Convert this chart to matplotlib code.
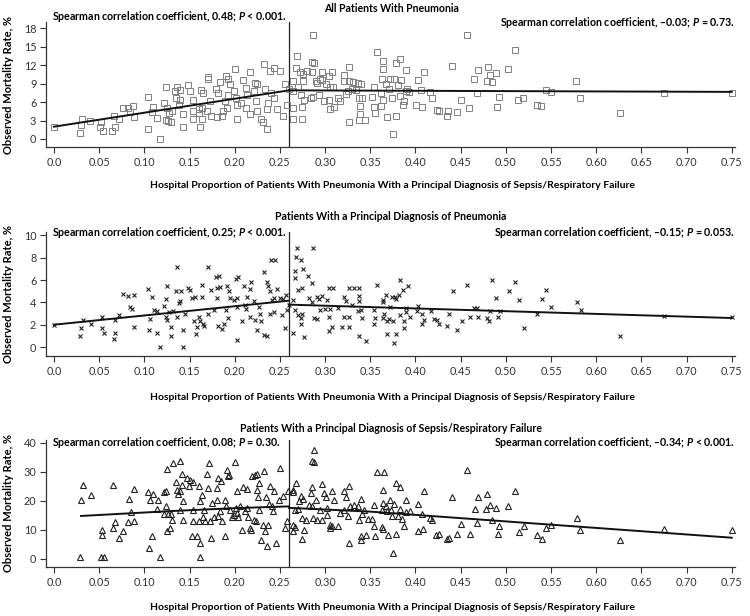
import numpy as np
import matplotlib
matplotlib.use('Agg')
import matplotlib.pyplot as plt

# ---------------- data ----------------
# panel 1: all patients with pneumonia
x_all = [0.000, 0.029, 0.030, 0.031, 0.040, 0.051, 0.052, 0.054, 0.064, 0.067, 0.066, 0.072,
         0.076, 0.082, 0.087, 0.084, 0.089, 0.104, 0.104, 0.108, 0.110, 0.114, 0.117,
         0.124, 0.122, 0.125, 0.124, 0.126, 0.129, 0.127, 0.131, 0.134, 0.136, 0.139, 0.135,
         0.140, 0.138, 0.143, 0.143, 0.148, 0.151, 0.154, 0.154, 0.154, 0.160, 0.161, 0.164,
         0.162, 0.164, 0.163, 0.165, 0.171, 0.171, 0.173, 0.174, 0.169, 0.179, 0.181, 0.184,
         0.180, 0.186, 0.187, 0.190, 0.193, 0.195, 0.193, 0.189, 0.191, 0.200, 0.199, 0.201,
         0.202, 0.203, 0.207, 0.209, 0.212, 0.214, 0.213, 0.217, 0.217, 0.221, 0.223, 0.224,
         0.225, 0.225, 0.232, 0.234, 0.229, 0.231, 0.236, 0.236, 0.237, 0.239, 0.244, 0.250,
         0.240, 0.243, 0.247, 0.254, 0.256, 0.258, 0.260,
         0.269, 0.268, 0.272, 0.276, 0.280, 0.264, 0.265, 0.270, 0.273, 0.276, 0.264, 0.264,
         0.275, 0.274, 0.277, 0.286, 0.288, 0.287, 0.285, 0.290, 0.291, 0.294, 0.297, 0.284,
         0.287, 0.293, 0.297, 0.301, 0.305, 0.304, 0.308, 0.309, 0.299, 0.304, 0.306, 0.310,
         0.314, 0.317, 0.321, 0.327, 0.321, 0.327, 0.331, 0.336, 0.340, 0.323, 0.325, 0.330,
         0.334, 0.337, 0.341, 0.327, 0.338, 0.344, 0.339, 0.339,
         0.357, 0.364, 0.364, 0.378, 0.383, 0.390, 0.409, 0.441, 0.457, 0.469, 0.465, 0.480,
         0.482, 0.489, 0.479, 0.485, 0.502, 0.510, 0.354, 0.363, 0.367, 0.372, 0.376, 0.384,
         0.381, 0.371, 0.403, 0.352, 0.364, 0.362, 0.374, 0.383, 0.387, 0.386, 0.389, 0.393,
         0.391, 0.354, 0.362, 0.355, 0.368, 0.378, 0.375, 0.406, 0.416, 0.418, 0.401, 0.407,
         0.424, 0.426, 0.436, 0.435, 0.446, 0.450, 0.459, 0.468, 0.493, 0.490, 0.514, 0.519,
         0.535, 0.539, 0.544, 0.550, 0.578, 0.582, 0.626, 0.675, 0.750]
y_all = [2.0, 1.0, 2.3, 3.2, 3.0, 2.0, 2.7, 1.3, 1.3, 2.0, 3.8, 3.2,
         5.1, 5.1, 5.4, 4.4, 3.6, 6.9, 1.6, 4.4, 5.2, 3.4, 0.0,
         8.5, 5.9, 5.1, 3.1, 3.0, 2.8, 4.2, 4.6, 7.8, 8.5, 7.9, 6.6,
         6.3, 5.6, 4.1, 2.0, 8.7, 7.8, 6.3, 4.6, 3.3, 4.3, 4.8, 3.2,
         2.0, 5.1, 8.0, 7.4, 10.1, 9.8, 6.2, 3.8, 4.6, 8.1, 7.5, 9.2,
         3.6, 3.8, 4.5, 10.2, 9.8, 9.0, 7.1, 6.2, 5.1, 11.4, 7.8, 6.6,
         3.2, 5.6, 5.9, 9.6, 8.3, 7.1, 5.1, 4.1, 10.9, 7.8, 9.1, 6.2,
         4.6, 9.0, 12.1, 8.2, 3.2, 2.8, 1.6, 4.8, 5.9, 11.0, 11.6, 11.0,
         7.5, 6.7, 4.8, 3.8, 9.0, 5.6, 8.2,
         13.4, 11.6, 10.9, 10.5, 11.1, 9.4, 7.8, 8.4, 7.1, 9.4, 5.1, 3.2,
         3.2, 5.2, 6.3, 12.5, 12.3, 16.9, 10.9, 9.4, 9.1, 9.7, 9.5, 6.7,
         6.8, 7.2, 10.9, 8.9, 8.4, 10.2, 10.9, 8.5, 6.2, 6.3, 4.8, 5.2,
         6.7, 6.2, 10.4, 11.7, 9.4, 9.4, 9.3, 9.1, 8.9, 7.3, 7.8, 8.2,
         7.9, 6.7, 6.7, 2.8, 3.1, 3.1, 4.0, 5.4,
         14.2, 12.7, 11.3, 12.4, 13.0, 11.2, 10.8, 11.9, 16.9, 11.2, 9.7, 11.7,
         10.4, 10.7, 9.4, 9.3, 11.4, 14.5, 8.4, 9.7, 8.9, 9.8, 9.7, 9.6,
         8.7, 8.2, 9.5, 6.9, 6.3, 7.5, 6.7, 7.0, 6.2, 5.5, 7.8, 7.6,
         8.2, 5.2, 5.4, 4.2, 3.5, 3.7, 0.8, 7.9, 7.6, 6.7, 5.5, 5.2,
         4.7, 4.6, 4.6, 3.8, 4.4, 6.4, 5.0, 7.4, 6.9, 5.2, 6.4, 6.6,
         5.5, 5.4, 7.9, 7.6, 9.4, 6.7, 4.2, 7.4, 7.4]

# panel 2: principal diagnosis of pneumonia
x_pna = [0.000, 0.029, 0.030, 0.032, 0.041, 0.053, 0.053, 0.055, 0.066, 0.067, 0.068, 0.072,
         0.076, 0.082, 0.089, 0.084, 0.086, 0.089, 0.104, 0.108, 0.106, 0.105, 0.111, 0.114,
         0.114, 0.117, 0.125, 0.124, 0.122, 0.124, 0.125, 0.127, 0.129, 0.130, 0.132, 0.136,
         0.135, 0.141, 0.138, 0.140, 0.136, 0.143, 0.143, 0.145, 0.148, 0.151, 0.153, 0.156,
         0.155, 0.157, 0.158, 0.161, 0.162, 0.164, 0.164, 0.165, 0.166, 0.171, 0.171, 0.174,
         0.177, 0.179, 0.183, 0.180, 0.180, 0.184, 0.181, 0.186, 0.188, 0.191, 0.194, 0.190,
         0.193, 0.195, 0.201, 0.204, 0.199, 0.203, 0.202, 0.203, 0.210, 0.211, 0.214, 0.208,
         0.213, 0.218, 0.217, 0.217, 0.221, 0.223, 0.225, 0.227, 0.228, 0.229, 0.232, 0.232,
         0.236, 0.237, 0.236, 0.240, 0.245, 0.239, 0.241, 0.243, 0.239, 0.243, 0.247, 0.250,
         0.252, 0.254, 0.256, 0.257, 0.258, 0.260,
         0.269, 0.268, 0.273, 0.287, 0.267, 0.267, 0.276, 0.281, 0.270, 0.274, 0.286, 0.265,
         0.267, 0.270, 0.273, 0.275, 0.273, 0.265, 0.277, 0.282, 0.285, 0.291, 0.293, 0.297,
         0.294, 0.300, 0.288, 0.291, 0.304, 0.309, 0.302, 0.306, 0.304, 0.308, 0.304, 0.314,
         0.319, 0.321, 0.323, 0.321, 0.327, 0.332, 0.338, 0.327, 0.327, 0.330, 0.338, 0.338,
         0.340, 0.341, 0.338, 0.345, 0.336,
         0.357, 0.367, 0.364, 0.364, 0.374, 0.377, 0.379, 0.383, 0.386, 0.382, 0.392, 0.354,
         0.365, 0.372, 0.355, 0.364, 0.368, 0.371, 0.375, 0.354, 0.383, 0.387, 0.390, 0.390,
         0.394, 0.387, 0.369, 0.379, 0.376, 0.403, 0.402, 0.407, 0.409, 0.407, 0.417, 0.420,
         0.424, 0.426, 0.435, 0.437, 0.442, 0.446, 0.451, 0.457, 0.460, 0.465, 0.468, 0.469,
         0.479, 0.481, 0.483, 0.485, 0.489, 0.491, 0.494, 0.503, 0.510, 0.515, 0.520, 0.535,
         0.540, 0.544, 0.550, 0.579, 0.583, 0.626, 0.675, 0.750]
y_pna = [2.0, 1.0, 1.75, 2.4, 2.05, 2.7, 1.7, 1.3, 0.7, 2.4, 1.3, 2.9,
         4.75, 4.6, 4.7, 3.6, 3.4, 1.8, 5.2, 4.5, 2.5, 1.5, 3.3, 3.2,
         1.3, 0.05, 5.5, 4.3, 3.7, 2.7, 2.4, 3.1, 1.8, 1.0, 3.2, 7.2,
         5.0, 5.0, 3.9, 4.1, 2.7, 0.05, 1.5, 3.0, 5.3, 5.1, 4.4, 4.5,
         2.3, 1.2, 1.8, 2.7, 2.3, 5.6, 4.5, 2.1, 1.9, 7.2, 3.0, 5.1,
         3.3, 6.3, 6.4, 5.3, 4.4, 5.4, 1.9, 1.6, 2.1, 5.5, 5.0, 3.3,
         2.6, 4.4, 6.1, 6.3, 4.2, 4.4, 0.65, 3.6, 5.5, 3.8, 4.5, 2.3,
         3.4, 5.8, 5.2, 2.7, 4.1, 2.4, 1.5, 3.6, 3.0, 2.3, 6.7, 1.1,
         5.8, 5.5, 0.95, 7.8, 7.8, 5.0, 4.2, 4.4, 3.0, 3.1, 5.2, 4.4,
         2.9, 4.3, 1.7, 4.7, 3.3, 3.8,
         8.9, 8.1, 7.8, 8.9, 6.8, 6.2, 7.0, 6.4, 5.1, 5.3, 5.7, 4.2,
         3.3, 2.9, 2.6, 3.0, 2.1, 1.3, 0.9, 4.4, 4.0, 4.5, 4.3, 4.6,
         3.3, 3.4, 2.6, 2.55, 5.3, 5.3, 4.2, 3.4, 2.7, 1.8, 1.4, 3.5,
         1.8, 4.5, 4.1, 2.7, 5.3, 5.3, 5.3, 2.7, 1.8, 3.8, 4.6, 4.1,
         3.3, 2.6, 0.95, 0.55, 3.2,
         5.6, 4.7, 4.2, 4.0, 4.5, 4.5, 4.3, 6.0, 5.1, 4.7, 5.5, 3.3,
         3.0, 3.6, 2.6, 2.6, 2.3, 2.5, 2.3, 2.1, 2.9, 2.3, 3.5, 3.1,
         2.7, 1.7, 1.2, 1.2, 0.4, 3.7, 3.2, 3.0, 2.4, 2.1, 3.2, 2.55,
         2.4, 2.1, 1.9, 3.0, 5.0, 1.5, 2.3, 5.6, 2.7, 3.5, 3.5, 2.7,
         2.6, 2.3, 3.2, 6.0, 4.4, 2.7, 3.2, 5.0, 5.8, 4.2, 1.7, 3.0,
         4.3, 5.1, 3.6, 4.0, 3.3, 1.0, 2.8, 2.7]

# panel 3: principal diagnosis of sepsis/respiratory failure
x_sep = [0.029, 0.030, 0.032, 0.041, 0.052, 0.055, 0.053, 0.053, 0.065, 0.065, 0.068, 0.072,
         0.076, 0.083, 0.085, 0.082, 0.089, 0.089, 0.104, 0.105, 0.106, 0.110, 0.109, 0.114,
         0.115, 0.117, 0.122, 0.124, 0.125, 0.124, 0.122, 0.126, 0.125, 0.128, 0.129, 0.131,
         0.132, 0.139, 0.135, 0.136, 0.137, 0.139, 0.142, 0.142, 0.140, 0.143, 0.143, 0.147,
         0.151, 0.149, 0.154, 0.153, 0.154, 0.154, 0.158, 0.161, 0.162, 0.162, 0.161, 0.162,
         0.164, 0.166, 0.165, 0.167, 0.172, 0.174, 0.169, 0.171, 0.175, 0.177, 0.173, 0.180,
         0.182, 0.185, 0.184, 0.182, 0.180, 0.189, 0.186, 0.189, 0.191, 0.194, 0.193, 0.190,
         0.195, 0.197, 0.200, 0.201, 0.203, 0.202, 0.204, 0.199, 0.206, 0.209, 0.214, 0.208,
         0.211, 0.214, 0.215, 0.217, 0.218, 0.219, 0.223, 0.225, 0.227, 0.225, 0.226, 0.227,
         0.221, 0.224, 0.229, 0.231, 0.232, 0.234, 0.235, 0.236, 0.237, 0.238, 0.239, 0.241,
         0.242, 0.243, 0.246, 0.249, 0.250, 0.254, 0.256, 0.258, 0.259,
         0.264, 0.265, 0.268, 0.264, 0.265, 0.267, 0.267, 0.270, 0.271, 0.273, 0.275, 0.275,
         0.277, 0.279, 0.276, 0.286, 0.288, 0.288, 0.286, 0.284, 0.282, 0.286, 0.290, 0.287,
         0.291, 0.297, 0.294, 0.299, 0.301, 0.297, 0.302, 0.302, 0.306, 0.306, 0.308, 0.308,
         0.310, 0.314, 0.317, 0.321, 0.327, 0.323, 0.321, 0.325, 0.327, 0.328, 0.332, 0.336,
         0.340, 0.338, 0.340, 0.340, 0.345, 0.343, 0.341, 0.347,
         0.357, 0.365, 0.378, 0.383, 0.364, 0.409, 0.440, 0.457, 0.510, 0.469, 0.479, 0.354,
         0.364, 0.367, 0.372, 0.376, 0.390, 0.403, 0.352, 0.363, 0.368, 0.373, 0.383, 0.390,
         0.394, 0.374, 0.381, 0.385, 0.387, 0.354, 0.363, 0.364, 0.355, 0.370, 0.379, 0.375,
         0.407, 0.416, 0.418, 0.403, 0.408, 0.423, 0.426, 0.435, 0.437, 0.446, 0.450, 0.460,
         0.466, 0.468, 0.478, 0.482, 0.489, 0.485, 0.493, 0.491, 0.502, 0.515, 0.520, 0.535,
         0.540, 0.544, 0.550, 0.579, 0.582, 0.626, 0.675, 0.750]
y_sep = [0.8, 20.4, 25.6, 22.1, 0.8, 0.8, 8.1, 9.8, 25.6, 10.6, 12.7, 7.1,
         9.7, 20.6, 16.1, 12.6, 24.1, 13.1, 22.9, 3.9, 20.4, 22.4, 8.0, 17.3,
         20.4, 0.8, 22.9, 23.3, 31.0, 18.1, 15.4, 15.4, 9.5, 10.6, 15.4, 13.5,
         33.1, 33.7, 26.4, 23.9, 22.4, 23.3, 29.3, 25.6, 17.0, 19.8, 13.5, 27.9,
         27.3, 25.2, 26.5, 8.0, 12.9, 17.0, 8.0, 25.2, 5.4, 0.8, 12.9, 20.1,
         22.1, 17.0, 14.4, 12.9, 33.1, 7.1, 29.3, 24.4, 19.3, 14.6, 12.9, 24.4,
         27.9, 27.0, 16.4, 14.9, 20.4, 20.4, 13.1, 8.0, 30.8, 29.0, 28.5, 18.1,
         17.0, 14.3, 33.4, 17.6, 23.5, 15.8, 14.6, 15.2, 18.4, 24.8, 24.1, 9.8,
         16.4, 17.5, 14.6, 10.8, 9.8, 28.5, 29.0, 29.3, 26.2, 23.6, 21.3, 17.0,
         13.3, 13.1, 6.6, 11.8, 30.2, 9.5, 21.2, 4.5, 11.8, 18.9, 25.0, 18.1,
         16.4, 23.3, 5.4, 20.4, 31.4, 21.6, 10.6, 12.9, 23.3,
         23.9, 22.9, 26.2, 11.8, 9.5, 11.0, 17.0, 17.2, 19.8, 21.8, 14.1, 6.8,
         10.0, 13.5, 20.6, 33.7, 33.4, 37.5, 24.8, 22.7, 18.7, 18.1, 20.4, 14.1,
         13.3, 25.9, 17.0, 22.7, 21.3, 13.5, 17.5, 15.2, 11.8, 10.6, 11.2, 23.5,
         20.4, 11.2, 15.8, 23.3, 25.2, 21.3, 17.0, 14.9, 5.4, 18.1, 18.7, 18.1,
         20.6, 13.5, 8.0, 6.6, 8.3, 17.0, 15.6, 13.7,
         30.0, 30.0, 26.2, 24.8, 23.6, 23.3, 21.2, 30.8, 23.3, 21.3, 22.5, 18.7,
         19.3, 18.1, 20.4, 18.9, 20.4, 18.9, 13.8, 16.9, 16.4, 16.9, 17.2, 16.0,
         16.4, 14.9, 14.9, 13.7, 11.2, 11.4, 11.0, 10.4, 8.0, 8.3, 8.5, 2.0,
         15.6, 14.1, 13.5, 9.5, 10.4, 8.3, 8.5, 6.9, 7.1, 8.5, 12.1, 8.5,
         17.3, 12.3, 17.3, 18.7, 17.7, 13.5, 11.2, 8.5, 18.3, 9.1, 11.5, 8.3,
         6.9, 10.8, 11.8, 14.1, 10.0, 6.6, 10.3, 9.8]

# fitted curves, left and right of the 0.26 breakpoint
fit_all_left_x, fit_all_left_y = [0.0, 0.26], [2.0, 7.9]
fit_all_right_x, fit_all_right_y = [0.26, 0.75], [7.9, 7.65]
fit_pna_left_x, fit_pna_left_y = [0.0, 0.26], [2.0, 4.15]
fit_pna_right_x, fit_pna_right_y = [0.26, 0.75], [3.8, 2.6]
fit_sep_left_x, fit_sep_left_y = [0.03, 0.13, 0.20, 0.26], [14.8, 16.5, 17.5, 18.1]
fit_sep_right_x, fit_sep_right_y = [0.26, 0.35, 0.55, 0.75], [17.6, 16.3, 11.8, 7.3]

breakpoint = 0.26
titles = ['All Patients With Pneumonia',
          'Patients With a Principal Diagnosis of Pneumonia',
          'Patients With a Principal Diagnosis of Sepsis/Respiratory Failure']
left_stats = [('0.48', '<', '0.001'), ('0.25', '<', '0.001'), ('0.08', '=', '0.30')]
right_stats = [('\u20130.03', '=', '0.73'), ('\u20130.15', '=', '0.053'), ('\u20130.34', '<', '0.001')]
yticks = [[0, 3, 6, 9, 12, 15, 18], [0, 2, 4, 6, 8, 10], [0, 10, 20, 30, 40]]
xticks = [0.0, 0.05, 0.10, 0.15, 0.20, 0.25, 0.30, 0.35, 0.40, 0.45, 0.50, 0.55, 0.60, 0.65, 0.70, 0.75]
xticklabels = ['0.0', '0.05', '0.10', '0.15', '0.20', '0.25', '0.30', '0.35', '0.40', '0.45',
               '0.50', '0.55', '0.60', '0.65', '0.70', '0.75']
xlab = 'Hospital Proportion of Patients With Pneumonia With a Principal Diagnosis of Sepsis/Respiratory Failure'
ylab = 'Observed Mortality Rate, %'

# ---------------- plotting ----------------
plt.rcParams['font.family'] = ['Lato', 'DejaVu Sans']
plt.rcParams['mathtext.fontset'] = 'custom'
plt.rcParams['mathtext.rm'] = 'Lato'
plt.rcParams['mathtext.it'] = 'Lato:italic'
plt.rcParams['mathtext.bf'] = 'Lato:bold'
plt.rcParams['mathtext.bfit'] = 'Lato:italic:bold'

W, H = 750, 616
fig = plt.figure(figsize=(7.5, 6.16), dpi=100)

def fx(px):
    return px / W

def fy(py):
    return 1 - py / H

# axes boxes in pixels (top, bottom)
boxes = [(22, 147), (232, 356), (440, 567)]
ylims = [(-1.3, 19.0), (-0.8, 10.3), (-2.8, 41.0)]
xlabel_y = [185, 398, 608]
title_y = [9, 217, 429]
lstat_y = [16, 232, 443]
rstat_y = [22, 232, 442]

panels = [(x_all, y_all, 's', '#808080', 'none', 4.5, 0.7,
           (fit_all_left_x, fit_all_left_y), (fit_all_right_x, fit_all_right_y)),
          (x_pna, y_pna, 'x', '#222222', 'none', 3.2, 0.8,
           (fit_pna_left_x, fit_pna_left_y), (fit_pna_right_x, fit_pna_right_y)),
          (x_sep, y_sep, '^', '#222222', 'none', 4.3, 0.8,
           (fit_sep_left_x, fit_sep_left_y), (fit_sep_right_x, fit_sep_right_y))]

left_px, right_px = 46, 735
for i, (xs, ys, mk, ec, fc, ms, mew, fl, fr) in enumerate(panels):
    top, bot = boxes[i]
    ax = fig.add_axes([fx(left_px), fy(bot), fx(right_px - left_px), (bot - top) / H])
    ax.plot(xs, ys, linestyle='none', marker=mk, markersize=ms, markeredgewidth=mew,
            markeredgecolor=ec, markerfacecolor=fc, color=ec, zorder=2)
    ax.plot(fl[0], fl[1], color='#111111', lw=1.4, zorder=3)
    ax.plot(fr[0], fr[1], color='#111111', lw=1.4, zorder=3)
    ax.axvline(breakpoint, color='#222222', lw=0.9, zorder=1)

    ax.set_xlim(-0.0088, 0.7536)
    ax.set_ylim(*ylims[i])
    ax.set_xticks(xticks)
    ax.set_xticklabels(xticklabels)
    ax.set_yticks(yticks[i])
    ax.tick_params(direction='out', length=4, width=0.8, labelsize=7.8,
                   labelcolor='#333333', color='#333333', pad=3)
    for s in ['top', 'right']:
        ax.spines[s].set_visible(False)
    for s in ['left', 'bottom']:
        ax.spines[s].set_linewidth(0.9)
        ax.spines[s].set_color('#333333')
    ax.set_ylabel(ylab, fontsize=8.0, fontweight='bold', labelpad=7)

    fig.text(fx(391), fy(title_y[i]), titles[i], ha='center', va='center',
             fontsize=7.6, fontweight='bold')
    fig.text(fx(393), fy(xlabel_y[i]), xlab, ha='center', va='center',
             fontsize=7.5, fontweight='bold')
    r, op, p = left_stats[i]
    fig.text(fx(52), fy(lstat_y[i]),
             'Spearman correlation coefficient, %s; $\\mathbfit{P}$ %s %s.' % (r, op, p),
             ha='left', va='center', fontsize=7.7, fontweight='bold')
    r, op, p = right_stats[i]
    fig.text(fx(735), fy(rstat_y[i]),
             'Spearman correlation coefficient, %s; $\\mathbfit{P}$ %s %s.' % (r, op, p),
             ha='right', va='center', fontsize=7.7, fontweight='bold')

fig.savefig('out.png', dpi=100)
